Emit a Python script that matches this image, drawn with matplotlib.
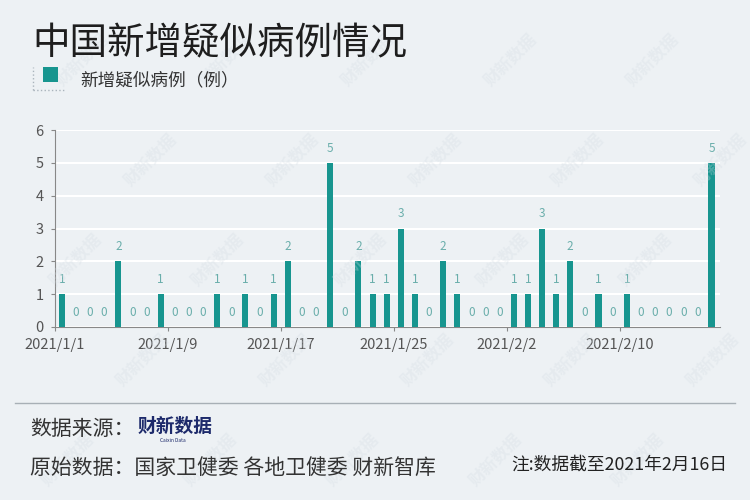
import numpy as np
import matplotlib
matplotlib.use("Agg")
import matplotlib.pyplot as plt
from matplotlib.patches import Rectangle
from matplotlib.lines import Line2D

plt.rcParams['font.family'] = ['Noto Sans CJK SC', 'DejaVu Sans']

# daily new suspected cases, 2021/1/1 .. 2021/2/16
cases = [1, 0, 0, 0, 2, 0, 0, 1, 0, 0, 0, 1, 0, 1, 0, 1, 2, 0, 0, 5,
         0, 2, 1, 1, 3, 1, 0, 2, 1, 0, 0, 0, 1, 1, 3, 1, 2, 0, 1, 0,
         1, 0, 0, 0, 0, 0, 5]
tick_idx = [0, 8, 16, 24, 32, 40]
tick_labels = ["2021/1/1", "2021/1/9", "2021/1/17", "2021/1/25", "2021/2/2", "2021/2/10"]

bg = "#edf1f4"
teal = "#17958f"
label_col = "#6aaeab"

fig = plt.figure(figsize=(7.5, 5), dpi=100, facecolor=bg)
ax = fig.add_axes([0.073, 0.346, 0.887, 0.394])
ax.set_facecolor(bg)

x = np.arange(len(cases))
ax.bar(x, cases, width=0.43, color=teal, zorder=3)
for i, v in enumerate(cases):
    ax.text(i, v + 0.25, str(v), ha="center", va="bottom",
            fontsize=8.5, color=label_col, zorder=4)

ax.set_xlim(-0.5, 46.6)
ax.set_ylim(0, 6)
ax.set_yticks(range(7))
ax.yaxis.grid(True, color="white", linewidth=1.5, zorder=0)
ax.set_xticks(np.array(tick_idx) - 0.5)
ax.set_xticklabels(tick_labels)
ax.tick_params(axis="both", labelsize=10.5, colors="#888888", labelcolor="#555555",
               length=3, width=0.8)
ax.tick_params(axis="x", direction="out", pad=5)
ax.tick_params(axis="y", pad=5)
for s in ["top", "right"]:
    ax.spines[s].set_visible(False)
for s in ["left", "bottom"]:
    ax.spines[s].set_color("#888888")
    ax.spines[s].set_linewidth(0.8)

# faint watermarks
for wx in np.arange(0.05, 1.0, 0.19):
    for wy in np.arange(0.08, 1.0, 0.2):
        fig.text(wx + (wy * 0.5) % 0.19, wy, "财新数据", fontsize=12, rotation=45,
                 color="#d3dce3", alpha=0.3, fontweight="bold",
                 ha="center", va="center", zorder=0)

# title and legend
fig.text(0.043, 0.913, "中国新增疑似病例情况", fontsize=27, color="#1e1e1e",
         va="center", fontweight="light")
fig.patches.append(Rectangle((0.057, 0.836), 0.02, 0.03, transform=fig.transFigure,
                             facecolor=teal, edgecolor="none"))
fig.lines.append(Line2D([0.044, 0.044], [0.82, 0.866], transform=fig.transFigure,
                        color="#aab4bc", linestyle=":", linewidth=1))
fig.lines.append(Line2D([0.044, 0.085], [0.82, 0.82], transform=fig.transFigure,
                        color="#aab4bc", linestyle=":", linewidth=1))
fig.text(0.107, 0.84, "新增疑似病例（例）", fontsize=12.7, color="#333333", va="center")

# footer
fig.lines.append(Line2D([0.02, 0.98], [0.194, 0.194], transform=fig.transFigure,
                        color="#a8b0b6", linewidth=1))
fig.text(0.04, 0.142, "数据来源：", fontsize=15, color="#333333", va="center")
fig.text(0.183, 0.147, "财新数据", fontsize=13.5, color="#1d2a6b", fontweight="heavy",
         va="center")
fig.text(0.23, 0.118, "Caixin Data", fontsize=3.5, color="#1d2a6b", ha="center",
         va="center")
fig.text(0.04, 0.064, "原始数据：国家卫健委 各地卫健委 财新智库", fontsize=15,
         color="#333333", va="center")
fig.text(0.969, 0.07, "注:数据截至2021年2月16日", fontsize=12.8, color="#222222",
         ha="right", va="center")

fig.savefig("out.png", dpi=100, facecolor=bg)
